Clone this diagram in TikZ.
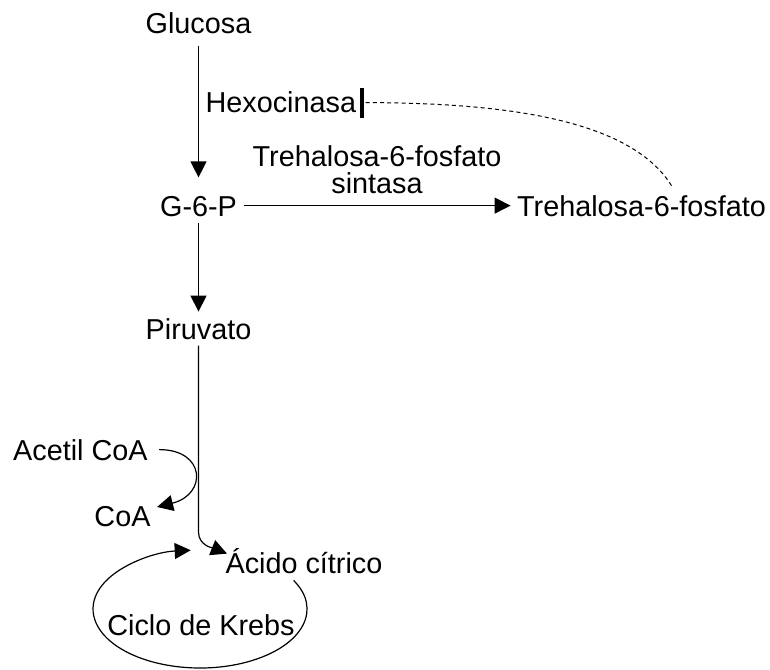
\documentclass[tikz,border=0pt]{standalone}
\usepackage{fontspec}
\setmainfont{Liberation Sans}
\usetikzlibrary{arrows.meta}

\begin{document}
\begin{tikzpicture}[x=0.5pt, y=0.5pt, line width=0.6pt, >={Triangle[length=8pt, width=8pt]},
    font=\fontsize{14.4pt}{13.5pt}\selectfont,
    mol/.style={inner sep=3pt, text height=10.4pt, text depth=0pt}]
    \useasboundingbox (0,0) rectangle (770,-669);

    \node [mol] (glucosa) at (198.5,-22.6) {Glucosa};
    \node [mol, below of=glucosa, node distance=91.5pt] (g6p) {G-6-P};
    \node [mol, below of=g6p, node distance=61.5pt] (piruvato) {Piruvato};
    \node [mol, right of=g6p, node distance=221.5pt] (t6p) {Trehalosa-6-fosfato};
    \node [mol, anchor=west] (hexo) at (199,-101.6) {Hexocinasa};
    \node [mol] (acetil) at (80.4,-449.6) {Acetil CoA};
    \node [mol] (coa) at (122.5,-515.6) {CoA};
    \node [mol] (citrico) at (304,-562.6) {Ácido cítrico};
    \node [mol] (krebs) at (201,-624.6) {Ciclo de Krebs};
    \coordinate (giro) at (198.5,-532);
    \coordinate (ciclo) at (293.6,-580.4);

    \path [->, draw, shorten <=3pt, shorten >=5.6pt] (glucosa) -- (g6p);
    \path [->, draw] (g6p) -- (piruvato);
    \path [->, draw] (g6p) -- node [above=2.5pt, inner sep=3pt, align=center] (sintasa) {Trehalosa-6-fosfato\\sintasa} (t6p);
    \path [draw, line width=0.5pt, dash pattern=on 2pt off 1.6pt, -{Bar[width=15pt, line width=2pt]}]
        ([xshift=15pt, yshift=1.5pt]t6p.north) to [out=122, in=0, out distance=40pt, in distance=70pt] ([xshift=-1.5pt, yshift=-0.5pt]hexo.east);
    \path [->, draw] (piruvato) -- (giro) to [out=-90, in=158] ([shift={(4pt,-4pt)}]citrico.north west);
    \path [->, draw, shorten <=2.5pt] (acetil) to [out=0, in=14, looseness=2.3] (coa);
    \path [->, draw] (ciclo) arc [start angle=29, end angle=-265, x radius=53.5pt, y radius=29.5pt];
\end{tikzpicture}
\end{document}
